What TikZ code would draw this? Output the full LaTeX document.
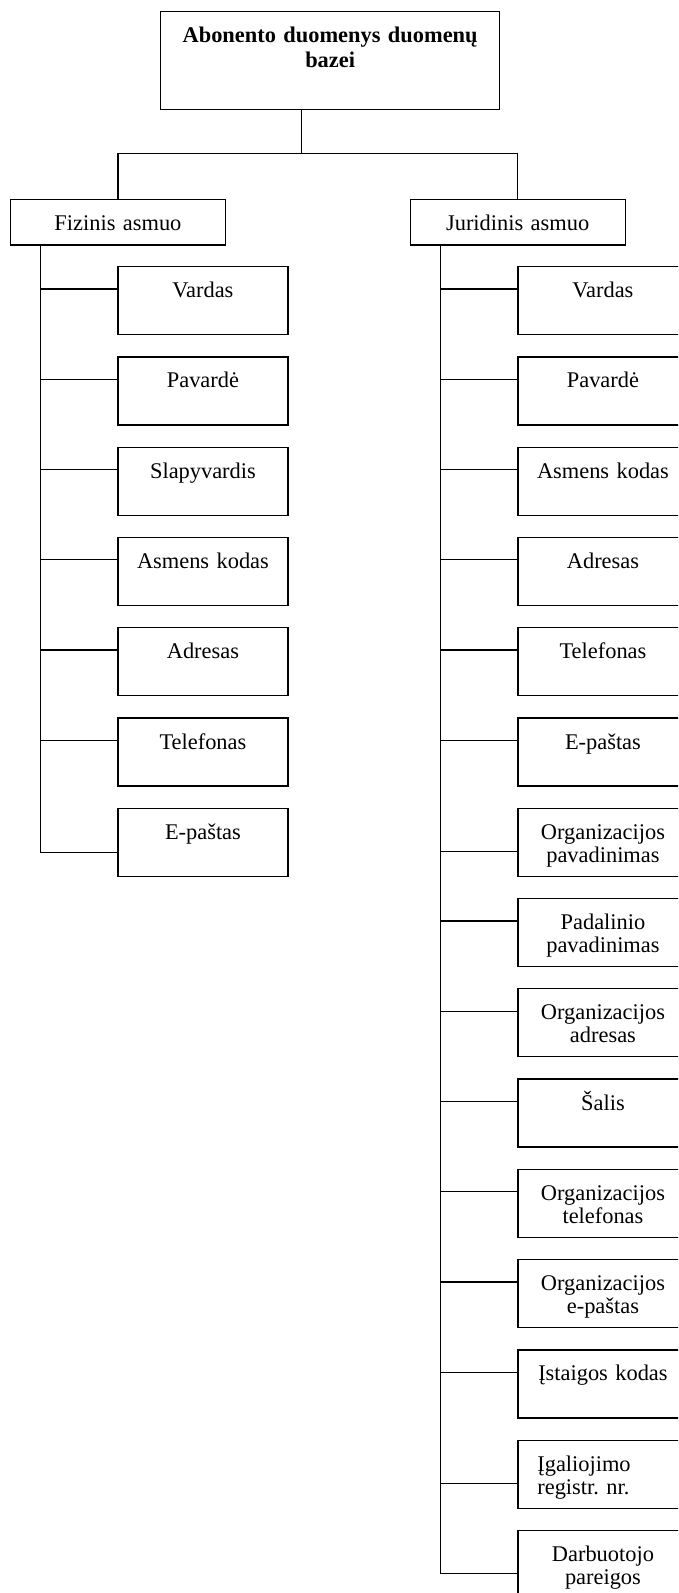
\documentclass[tikz,border=0pt]{standalone}
\usepackage{fontspec}
\setmainfont{Liberation Serif}
\frenchspacing
\begin{document}
\begin{tikzpicture}[x=1pt,y=-1pt,line width=1.3pt,
  box/.style={draw, inner sep=0pt, anchor=north west, align=center,
    font=\fontsize{22.4}{23}\selectfont},
  item/.style={box, text width=170pt, text height=31pt, text depth=37pt},
  itemleft/.style={item, align=left, text width=131.2pt, inner xsep=19.4pt},
  group/.style={box, text width=215pt, text height=31pt, text depth=14.3pt}]
\useasboundingbox (0,0) rectangle (678,1593);
\clip (0,0) rectangle (678,1593);

% root and the two groups
\node[box, text width=339pt, text height=31pt, text depth=67pt,
  font=\fontsize{22.4}{25}\selectfont\bfseries] (root) at (160,11)
  {Abonento duomenys duomenų\\bazei};
\node[group] (fiz) at (9.8,199) {Fizinis asmuo};
\node[group] (jur) at (409.5,199) {Juridinis asmuo};

\coordinate (hub) at (301.7,153.7);
\draw (root.south -| hub) -- (hub);
\draw (fiz.north) |- (hub) -| (jur.north);

% spines
\coordinate (lsp) at (40.7,0);
\coordinate (rsp) at (440.7,0);

% natural person
\foreach \i/\t/\d in {0/Vardas/23, 1/Pavardė/23, 2/Slapyvardis/23,
    3/Asmens kodas/23, 4/Adresas/23, 5/Telefonas/23, 6/E-paštas/45} {
  \node[item] (l\i) at (117.3,{266+90.27*\i}) {\t};
  \coordinate (lc\i) at ([yshift=-\d pt]l\i.north west);
  \draw (lc\i) -- (lc\i -| lsp);
}
\draw (fiz.south -| lsp) -- (lc6 -| lsp);

% legal person
\foreach \i/\t/\d/\s in {0/Vardas/23/item, 1/Pavardė/23/item,
    2/Asmens kodas/23/item, 3/Adresas/23/item, 4/Telefonas/23/item,
    5/E-paštas/23/item, 6/{Organizacijos\\pavadinimas}/44/item,
    7/{Padalinio\\pavadinimas}/23/item, 8/{Organizacijos\\adresas}/23/item,
    9/Šalis/23/item, 10/{Organizacijos\\telefonas}/23/item,
    11/{Organizacijos\\e-paštas}/23/item, 12/Įstaigos kodas/23/item,
    13/{Įgaliojimo\\registr. nr.}/44/itemleft,
    14/{Darbuotojo\\pareigos}/44/item} {
  \node[\s] (r\i) at (517.3,{266+90.27*\i}) {\t};
  \coordinate (rc\i) at ([yshift=-\d pt]r\i.north west);
  \draw (rc\i) -- (rc\i -| rsp);
}
\draw (jur.south -| rsp) -- (rc14 -| rsp);
\end{tikzpicture}
\end{document}
